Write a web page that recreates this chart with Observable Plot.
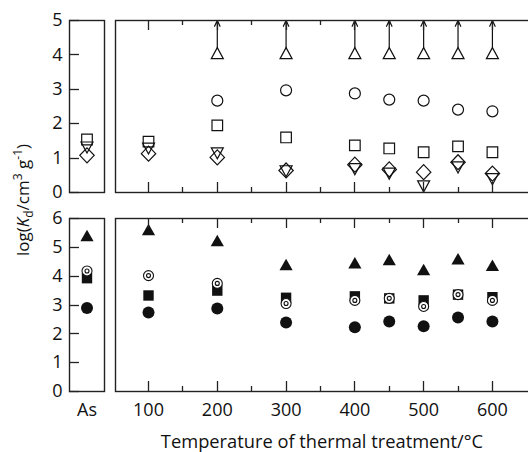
<!DOCTYPE html>
<html><head><meta charset="utf-8">
<script src="https://cdn.jsdelivr.net/npm/d3@7"></script>
<script src="https://cdn.jsdelivr.net/npm/@observablehq/plot@0.6"></script>
<style>
body{margin:0;overflow:hidden;background:#fff;}
#wrap{position:relative;width:528px;height:452px;overflow:hidden;font-family:"Open Sans",sans-serif;color:#111;}
#wrap > svg, #wrap > div{position:absolute;}
.ylab{left:22px;top:200px;transform:translate(-50%,-50%) rotate(-90deg);white-space:nowrap;font-size:17px;line-height:1;}
.ylab sub,.ylab sup{font-size:12px;line-height:0;}
.xlab{left:322px;top:441px;transform:translate(-50%,-50%);white-space:nowrap;font-size:18.3px;line-height:1;}
</style></head><body><div id="wrap"></div>
<script>
// ---- data ----
const temps = [100, 200, 300, 400, 450, 500, 550, 600];
const xTicks = [100, 200, 300, 400, 500, 600];
const xMinorTicks = [150, 250, 350, 450, 550];
const topYTicks = [0, 1, 2, 3, 4, 5];
const botYTicks = [0, 1, 2, 3, 4, 5, 6];
const asLabel = ["As"];

// top panel (open symbols), treated samples
const openTriangleUp   = [null, 4, 4, 4, 4, 4, 4, 4];        // lower limits (arrows)
const openCircle       = [null, 2.67, 2.97, 2.88, 2.70, 2.67, 2.41, 2.36];
const openSquare       = [1.48, 1.95, 1.60, 1.37, 1.28, 1.17, 1.34, 1.17];
const openDiamond      = [1.13, 1.02, 0.64, 0.81, 0.67, 0.59, 0.88, 0.55];
const openTriangleDown = [1.33, 1.19, 0.67, 0.73, 0.60, 0.23, 0.78, 0.44];
// top panel, as-received
const asOpenSquare = [1.54];
const asOpenTriangleDown = [1.36];
const asOpenDiamond = [1.08];

// bottom panel (filled symbols), treated samples
const filledTriangle = [5.55, 5.17, 4.34, 4.40, 4.51, 4.16, 4.54, 4.31];
const bullseye       = [4.02, 3.75, 3.05, 3.16, 3.23, 2.95, 3.36, 3.16];
const filledSquare   = [3.33, 3.50, 3.25, 3.30, 3.23, 3.16, 3.36, 3.27];
const filledCircle   = [2.74, 2.88, 2.39, 2.23, 2.43, 2.26, 2.57, 2.43];
// bottom panel, as-received
const asFilledTriangle = [5.34];
const asBullseye = [4.18];
const asFilledSquare = [3.93];
const asFilledCircle = [2.90];

// ---- symbols ----
const sTriUp = {draw(c){c.moveTo(0,-7.3);c.lineTo(6,3.7);c.lineTo(-6,3.7);c.closePath();}};
const sTriDown = {draw(c){c.moveTo(0,7.3);c.lineTo(6,-3.7);c.lineTo(-6,-3.7);c.closePath();}};
const sSquare = {draw(c){c.rect(-5.3,-5.3,10.6,10.6);}};
const sDiamond = {draw(c){c.moveTo(0,-7.5);c.lineTo(7.2,0);c.lineTo(0,7.5);c.lineTo(-7.2,0);c.closePath();}};
const sFTri = {draw(c){c.moveTo(0,-7.7);c.lineTo(6.6,3.8);c.lineTo(-6.6,3.8);c.closePath();}};
const sFSquare = {draw(c){c.rect(-5.2,-5.2,10.4,10.4);}};

const rows = (xs, vs) => xs.map((x, i) => ({x, v: vs[i]})).filter(d => d.v != null);
const asRows = vs => vs.map(v => ({x: 0.5, v}));

const INK = "#111", FRAME = "#222";
const FONT = "Open Sans, sans-serif";
const FS = 18;
const openStyle = {fill: "none", stroke: INK, strokeWidth: 1.2, r: 5};
const wrap = document.getElementById("wrap");
const intFmt = d3.format("d");

function place(svg, left, top){ svg.style.left = left + "px"; svg.style.top = top + "px"; wrap.appendChild(svg); return svg; }

const xDomain = [52, 667];
const frameMark = () => Plot.frame({stroke: FRAME, strokeWidth: 1.4});

// inward ticks, positioned with the plot's own x / y scales
function addXTicks(svg){
  const sx = svg.scale("x"), sy = svg.scale("y");
  const [y0, y1] = sy.range; // bottom, top
  const g = d3.select(svg).append("g").attr("stroke", FRAME).attr("stroke-width", 1.3);
  const put = (vals, len) => vals.forEach(v => {
    const x = Math.round(sx.apply(v)) + 0.5;
    g.append("line").attr("x1", x).attr("x2", x).attr("y1", y0).attr("y2", y0 - len);
    g.append("line").attr("x1", x).attr("x2", x).attr("y1", y1).attr("y2", y1 + len);
  });
  put(xTicks, 10); put(xMinorTicks, 5);
}
function addYTicks(svg, ticks){
  const sx = svg.scale("x"), sy = svg.scale("y");
  const x0 = sx.range[0];
  const g = d3.select(svg).append("g").attr("stroke", FRAME).attr("stroke-width", 1.3);
  ticks.forEach(v => {
    const y = Math.round(sy.apply(v)) + 0.5;
    g.append("line").attr("x1", x0).attr("x2", x0 + 10).attr("y1", y).attr("y2", y);
  });
}

// ---- As, top ----
const asTop = place(Plot.plot({
  width: 110, height: 200, marginLeft: 69, marginRight: 6, marginTop: 20, marginBottom: 8,
  style: {fontFamily: FONT, fontSize: FS + "px", color: INK, overflow: "visible"},
  x: {domain: [0, 1], axis: null},
  y: {domain: [0, 5]},
  marks: [
    Plot.axisY({ticks: topYTicks, tickSize: 0, tickPadding: 7, tickFormat: intFmt, label: null, fontSize: FS, fill: INK}),
    Plot.dot(asRows(asOpenSquare), {x: "x", y: "v", symbol: sSquare, ...openStyle}),
    Plot.dot(asRows(asOpenTriangleDown), {x: "x", y: "v", symbol: sTriDown, ...openStyle}),
    Plot.dot(asRows(asOpenDiamond), {x: "x", y: "v", symbol: sDiamond, ...openStyle}),
    frameMark()
  ]
}), 0, 0);
addYTicks(asTop, topYTicks);

// ---- main, top ----
const mainTop = place(Plot.plot({
  width: 423, height: 200, marginLeft: 10, marginRight: -10, marginTop: 20, marginBottom: 8,
  style: {fontFamily: FONT, fontSize: FS + "px", color: INK},
  x: {domain: xDomain, axis: null},
  y: {domain: [0, 5], axis: null},
  marks: [
    Plot.arrow(rows(temps, openTriangleUp), {x1: "x", x2: "x", y1: "v", y2: () => 5, insetStart: 7.3, headLength: 8, headAngle: 50, stroke: INK, strokeWidth: 1.2}),
    Plot.dot(rows(temps, openTriangleUp), {x: "x", y: "v", symbol: sTriUp, ...openStyle}),
    Plot.dot(rows(temps, openCircle), {x: "x", y: "v", symbol: "circle", ...openStyle, r: 5.5}),
    Plot.dot(rows(temps, openSquare), {x: "x", y: "v", symbol: sSquare, ...openStyle}),
    Plot.dot(rows(temps, openDiamond), {x: "x", y: "v", symbol: sDiamond, ...openStyle}),
    Plot.dot(rows(temps, openTriangleDown), {x: "x", y: "v", symbol: sTriDown, ...openStyle}),
    frameMark()
  ]
}), 105, 0);
addXTicks(mainTop);

// ---- As, bottom ----
const asBot = place(Plot.plot({
  width: 110, height: 252, marginLeft: 69, marginRight: 6, marginTop: 18, marginBottom: 61,
  style: {fontFamily: FONT, fontSize: FS + "px", color: INK, overflow: "visible"},
  x: {domain: [0, 1]},
  y: {domain: [0, 6]},
  marks: [
    Plot.axisY({ticks: botYTicks, tickSize: 0, tickPadding: 7, tickFormat: intFmt, label: null, fontSize: FS, fill: INK}),
    Plot.axisX({ticks: [0.5], tickFormat: () => asLabel[0], tickSize: 0, tickPadding: 12, label: null, fontSize: FS, fill: INK}),
    Plot.dot(asRows(asFilledCircle), {x: "x", y: "v", symbol: "circle", r: 6, fill: INK}),
    Plot.dot(asRows(asFilledTriangle), {x: "x", y: "v", symbol: sFTri, r: 5, fill: INK}),
    Plot.dot(asRows(asFilledSquare), {x: "x", y: "v", symbol: sFSquare, r: 5, fill: INK}),
    Plot.dot(asRows(asBullseye), {x: "x", y: "v", r: 5, fill: "white", stroke: INK, strokeWidth: 1.1}),
    Plot.dot(asRows(asBullseye), {x: "x", y: "v", r: 2, fill: "white", stroke: INK, strokeWidth: 1.1}),
    frameMark()
  ]
}), 0, 200);
addYTicks(asBot, botYTicks);

// ---- main, bottom ----
const mainBot = place(Plot.plot({
  width: 423, height: 252, marginLeft: 10, marginRight: -10, marginTop: 18, marginBottom: 61,
  style: {fontFamily: FONT, fontSize: FS + "px", color: INK},
  x: {domain: xDomain},
  y: {domain: [0, 6], axis: null},
  marks: [
    Plot.axisX({ticks: xTicks, anchor: "bottom", tickSize: 0, tickPadding: 12, label: null, fontSize: FS, fill: INK}),
    Plot.dot(rows(temps, filledCircle), {x: "x", y: "v", symbol: "circle", r: 6, fill: INK}),
    Plot.dot(rows(temps, filledTriangle), {x: "x", y: "v", symbol: sFTri, r: 5, fill: INK}),
    Plot.dot(rows(temps, filledSquare), {x: "x", y: "v", symbol: sFSquare, r: 5, fill: INK}),
    Plot.dot(rows(temps, bullseye), {x: "x", y: "v", r: 5, fill: "white", stroke: INK, strokeWidth: 1.1}),
    Plot.dot(rows(temps, bullseye), {x: "x", y: "v", r: 2, fill: "white", stroke: INK, strokeWidth: 1.1}),
    frameMark()
  ]
}), 105, 200);
addXTicks(mainBot);

// ---- axis titles ----
const yl = document.createElement("div");
yl.className = "ylab";
yl.innerHTML = "log(<i>K</i><sub>d</sub>/cm<sup>3</sup> g<sup>-1</sup>)";
wrap.appendChild(yl);
const xl = document.createElement("div");
xl.className = "xlab";
xl.textContent = "Temperature of thermal treatment/°C";
wrap.appendChild(xl);
</script></body></html>
